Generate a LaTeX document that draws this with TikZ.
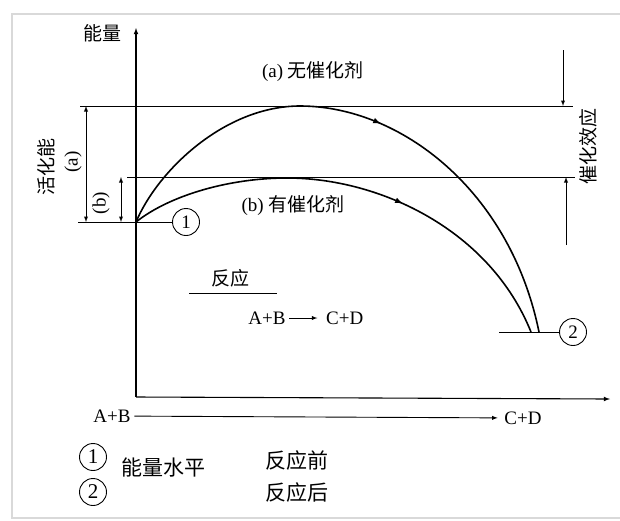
\documentclass[tikz,border=0pt]{standalone}
\usepackage{fontspec}
\setmainfont{Liberation Serif}
\newfontfamily\cjk{Noto Sans CJK SC}
\usetikzlibrary{positioning, arrows, decorations.markings}

\begin{document}
\begin{tikzpicture}[x=1pt, y=-1pt, >=latex, line width=0.9pt,
   font=\fontsize{19}{22}\selectfont,
   lvl/.style={draw, circle, inner sep=0pt, minimum size=27pt, line width=0.9pt},
   big/.style={font=\fontsize{21}{24}\selectfont},
   curve/.style={line width=1.6pt, postaction={decorate}}]
   \useasboundingbox (0,0) rectangle (620,520);
   % 外框
   \draw[black!15, line width=2.5pt] (624,14) -- (12,14) -- (12,518) -- (624,518);

   % 坐标轴
   \coordinate (o) at (136,397);
   \coordinate (y_top) at (136,28);
   \coordinate (x_end) at (610,399);
   \draw[->, line width=1.1pt] (o) -- (y_top);
   \draw[->, line width=1.1pt] (o) -- (x_end);
   \node (energy) at (102,33) {\cjk 能量};

   % 能量水平
   \node[lvl] (m_1) at (186,222) {1};
   \node[lvl] (m_2) at (573,332) {2};
   \coordinate (s) at (136,222);
   \draw (78,222) -- (m_1);
   \draw (499,332) -- (m_2);

   % 峰值线
   \draw (80,106) -- (573,106);
   \draw (127,177) -- (575,177);

   % 活化能
   \draw[<->] (86,106) -- (86,222);
   \draw[<->] (121,177) -- (121,222);
   \node[rotate=90] (act) at (46,167) {\cjk 活化能};
   \node[rotate=90] (act_a) at (73,162) {(a)};
   \node[rotate=90] (act_b) at (101,203) {(b)};

   % 催化效应
   \draw[->] (563,50) -- (563,106);
   \draw[->] (566,245) -- (566,177);
   \node[rotate=90] (effect) at (588,146) {\cjk 催化效应};

   % 反应曲线
   \draw[curve, decoration={markings, mark=at position 0.52 with {\arrow{latex}}}]
     (s) .. controls (158,170) and (225,106) .. (300,106)
         .. controls (400,106) and (510,190) .. (539,332);
   \draw[curve, decoration={markings, mark=at position 0.6 with {\arrow{latex}}}]
     (s) .. controls (170,195) and (230,178) .. (287,178)
         .. controls (380,178) and (490,230) .. (531,332);
   \node (no_cat) at (313,72) {(a)\ {\cjk 无催化剂}};
   \node (with_cat) at (293,206) {(b)\ {\cjk 有催化剂}};

   % 反应式
   \node (rxn) at (230,278) {\cjk 反应};
   \draw (189,293) -- (277,293);
   \node (ab) at (267,318) {A+B};
   \node (cd) [right=33pt of ab] {C+D};
   \draw[->, shorten >=5pt] (ab) -- (cd);

   % 反应进程
   \node (start) at (112,416) {A+B};
   \node (end) at (523,418) {C+D};
   \draw[->, shorten >=3pt] (start) -- (end);

   % 图例
   \node[lvl, big] (k_1) at (93,457) {1};
   \node[lvl, big] (k_2) at (93,492) {2};
   \node[big] (lvl_txt) at (163,467) {\cjk 能量水平};
   \node[big] (before) at (297,460) {\cjk 反应前};
   \node[big] (after) at (297,492) {\cjk 反应后};
\end{tikzpicture}
\end{document}
